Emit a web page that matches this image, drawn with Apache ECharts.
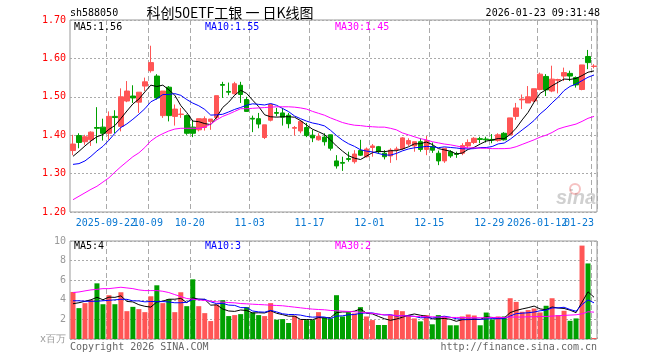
<!DOCTYPE html>
<html><head><meta charset="utf-8">
<script src="https://cdn.jsdelivr.net/npm/echarts@6/dist/echarts.min.js"></script>
<style>html,body{margin:0;padding:0;background:#fff}#c{width:660px;height:360px}</style>
</head><body><div id="c"></div>
<script>
// ---- data ----
const dates = ['2025-09-12','2025-09-15','2025-09-16','2025-09-17','2025-09-18','2025-09-19','2025-09-22','2025-09-23','2025-09-24','2025-09-25','2025-09-26','2025-09-29','2025-09-30',
'2025-10-09','2025-10-10','2025-10-13','2025-10-14','2025-10-15','2025-10-16','2025-10-17','2025-10-20','2025-10-21','2025-10-22','2025-10-23','2025-10-24','2025-10-27','2025-10-28','2025-10-29','2025-10-30','2025-10-31',
'2025-11-03','2025-11-04','2025-11-05','2025-11-06','2025-11-07','2025-11-10','2025-11-11','2025-11-12','2025-11-13','2025-11-14','2025-11-17','2025-11-18','2025-11-19','2025-11-20','2025-11-21','2025-11-24','2025-11-25','2025-11-26','2025-11-27','2025-11-28',
'2025-12-01','2025-12-02','2025-12-03','2025-12-04','2025-12-05','2025-12-08','2025-12-09','2025-12-10','2025-12-11','2025-12-12','2025-12-15','2025-12-16','2025-12-17','2025-12-18','2025-12-19','2025-12-22','2025-12-23','2025-12-24','2025-12-25','2025-12-26','2025-12-29','2025-12-30','2025-12-31',
'2026-01-05','2026-01-06','2026-01-07','2026-01-08','2026-01-09','2026-01-12','2026-01-13','2026-01-14','2026-01-15','2026-01-16','2026-01-19','2026-01-20','2026-01-21','2026-01-22','2026-01-23'];

const tickDates  = ['2025-09-22','2025-10-09','2025-10-20','2025-11-03','2025-11-17','2025-12-01','2025-12-15','2025-12-29','2026-01-12','2026-01-23'];
const tickLabels = ['2025-09-22','10-09','10-20','11-03','11-17','12-01','12-15','12-29','2026-01-12','01-23'];
// labels that overlap a neighbour in the reference go on a second label row (same place)
const overlapDates = ['2025-10-09','2026-01-23'];

const opens  = [1.360,1.399,1.383,1.388,1.420,1.421,1.405,1.449,1.423,1.489,1.502,1.486,1.528,1.568,1.554,1.451,1.525,1.449,1.454,1.451,1.421,1.414,1.420,1.436,1.446,1.532,1.514,1.508,1.530,1.493,1.444,1.443,1.394,1.439,1.459,1.458,1.452,1.418,1.411,1.420,1.400,1.388,1.395,1.401,1.333,1.329,1.339,1.331,1.360,1.344,1.368,1.370,1.353,1.346,1.363,1.365,1.377,1.372,1.383,1.363,1.370,1.353,1.333,1.357,1.352,1.353,1.372,1.381,1.391,1.390,1.389,1.386,1.405,1.401,1.449,1.492,1.484,1.489,1.519,1.553,1.515,1.543,1.554,1.561,1.550,1.519,1.605,1.579];
const closes = [1.377,1.381,1.396,1.408,1.418,1.405,1.449,1.446,1.500,1.515,1.497,1.512,1.539,1.589,1.497,1.515,1.451,1.468,1.455,1.405,1.405,1.443,1.443,1.442,1.503,1.530,1.512,1.534,1.506,1.462,1.442,1.429,1.427,1.480,1.457,1.447,1.430,1.420,1.436,1.399,1.393,1.397,1.383,1.366,1.320,1.327,1.337,1.351,1.348,1.364,1.372,1.357,1.344,1.361,1.364,1.393,1.386,1.383,1.363,1.386,1.361,1.333,1.366,1.346,1.350,1.373,1.381,1.392,1.389,1.388,1.387,1.401,1.388,1.445,1.471,1.494,1.500,1.521,1.559,1.518,1.546,1.545,1.563,1.554,1.531,1.583,1.589,1.580];
const lows   = [1.348,1.366,1.375,1.372,1.379,1.386,1.388,1.405,1.410,1.486,1.484,1.458,1.515,1.563,1.493,1.445,1.436,1.425,1.445,1.401,1.395,1.410,1.412,1.414,1.440,1.497,1.504,1.506,1.484,1.461,1.408,1.418,1.390,1.436,1.449,1.425,1.418,1.399,1.405,1.395,1.382,1.386,1.373,1.360,1.313,1.307,1.331,1.326,1.346,1.342,1.344,1.351,1.337,1.328,1.335,1.361,1.372,1.357,1.357,1.348,1.354,1.322,1.328,1.341,1.341,1.348,1.366,1.377,1.379,1.381,1.379,1.383,1.386,1.401,1.440,1.468,1.484,1.486,1.517,1.502,1.512,1.509,1.541,1.541,1.524,1.517,1.572,1.574];
const highs  = [1.401,1.405,1.401,1.410,1.473,1.443,1.462,1.465,1.522,1.541,1.530,1.512,1.550,1.633,1.559,1.515,1.528,1.480,1.471,1.454,1.440,1.443,1.449,1.442,1.503,1.539,1.537,1.539,1.539,1.500,1.451,1.458,1.427,1.482,1.471,1.471,1.458,1.424,1.440,1.432,1.414,1.405,1.405,1.401,1.348,1.344,1.357,1.361,1.388,1.368,1.377,1.372,1.361,1.366,1.370,1.395,1.392,1.383,1.392,1.398,1.381,1.360,1.366,1.361,1.357,1.379,1.389,1.395,1.396,1.396,1.403,1.405,1.408,1.445,1.484,1.506,1.528,1.521,1.563,1.559,1.581,1.547,1.576,1.568,1.553,1.583,1.622,1.585];

// moving averages: first points (need history before the window)
const ma5Lead  = [1.345,1.358,1.372,1.385];
const ma10Lead = [1.324,1.326,1.333,1.345,1.359,1.371,1.387,1.405,1.420];
const ma30 = [1.232,1.241,1.250,1.259,1.267,1.278,1.289,1.304,1.318,1.331,1.344,1.354,1.368,1.385,1.396,1.404,1.411,1.416,1.418,1.418,1.418,1.418,1.421,1.429,1.440,1.449,1.455,1.462,1.469,1.469,1.470,1.471,1.472,1.473,1.474,1.474,1.474,1.473,1.471,1.468,1.462,1.457,1.452,1.445,1.439,1.433,1.429,1.426,1.425,1.423,1.422,1.421,1.421,1.418,1.414,1.406,1.401,1.396,1.391,1.388,1.383,1.380,1.377,1.375,1.372,1.369,1.367,1.367,1.366,1.366,1.365,1.365,1.365,1.366,1.370,1.376,1.382,1.388,1.395,1.400,1.407,1.416,1.421,1.425,1.429,1.436,1.444,1.449];

const volumes = [4.80,3.15,3.66,3.99,5.68,3.55,4.47,3.55,4.77,2.84,3.28,3.05,2.74,4.36,5.48,3.66,4.06,2.74,4.77,3.35,6.09,3.35,2.64,1.83,3.52,3.96,2.34,2.44,2.54,3.25,2.71,2.44,2.34,3.66,1.97,2.03,1.63,2.37,1.97,1.93,1.93,2.74,2.20,2.10,4.47,2.30,2.71,2.61,3.25,2.30,1.93,1.43,1.43,2.44,2.95,2.84,2.44,2.10,1.80,2.44,1.50,2.44,2.30,1.40,1.40,2.30,2.50,2.40,1.40,2.70,2.00,2.30,2.30,4.16,3.79,2.78,2.95,3.11,2.71,3.39,4.16,2.44,2.88,1.86,2.10,9.53,7.71,0.10];
const volMa5Lead  = [3.60,3.70,3.85,4.00];
const volMa10Lead = [3.90,3.90,3.85,3.85,3.85,3.90,3.95,4.00,4.05];
const volMa30 = [4.74,4.80,4.91,5.01,5.07,5.14,5.14,5.21,5.28,5.21,5.14,5.01,4.94,4.94,4.94,4.87,4.74,4.53,4.33,4.13,4.06,3.99,3.93,3.86,3.79,3.76,3.72,3.69,3.62,3.59,3.55,3.52,3.49,3.45,3.42,3.39,3.32,3.25,3.18,3.11,3.05,3.01,2.98,2.91,2.88,2.84,2.81,2.78,2.74,2.68,2.61,2.54,2.47,2.44,2.41,2.37,2.34,2.30,2.30,2.27,2.27,2.24,2.24,2.20,2.20,2.20,2.17,2.17,2.17,2.17,2.20,2.20,2.20,2.24,2.24,2.24,2.27,2.27,2.30,2.30,2.34,2.37,2.41,2.44,2.47,2.57,2.78,2.74];

const priceTicks = [1.20,1.30,1.40,1.50,1.60,1.70];
const volTicks = [0,2,4,6,8,10];

// ---- build ----
function movingAvg(arr, n, lead) {
  return arr.map((_, i) => {
    if (i < n - 1) return lead[i];
    let s = 0; for (let k = i - n + 1; k <= i; k++) s += arr[k];
    return +(s / n).toFixed(4);
  });
}
const ma5 = movingAvg(closes, 5, ma5Lead);
const ma10 = movingAvg(closes, 10, ma10Lead);
const vma5 = movingAvg(volumes, 5, volMa5Lead);
const vma10 = movingAvg(volumes, 10, volMa10Lead);

const UP = '#ff5555', DOWN = '#00a000';
const kData = dates.map((d, i) => [opens[i], closes[i], lows[i], highs[i]]);
const volData = volumes.map((v, i) => ({ value: v, itemStyle: { color: closes[i] >= opens[i] ? UP : DOWN } }));
const tickIdx = tickDates.map(d => dates.indexOf(d));
const rowA = tickDates.filter(d => !overlapDates.includes(d)).map(d => dates.indexOf(d));
const rowB = overlapDates.map(d => dates.indexOf(d));
const MONO = '"DejaVu Sans Mono", "Liberation Mono", monospace';
const DATE_C = '#0a78d2';

const chart = echarts.init(document.getElementById('c'), null, { renderer: 'canvas' });
const splitX = { show: true, interval: (idx) => tickIdx.includes(idx), lineStyle: { color: '#aaa', type: [5, 3], width: 1 } };

function lineSeries(name, data, color, xi) {
  return { name, type: 'line', data, xAxisIndex: xi, yAxisIndex: xi, symbol: 'none', silent: true,
    lineStyle: { color, width: 1 }, z: 3 };
}
function dateLabel(rowIdx) {
  return { show: true, interval: (idx) => rowIdx.includes(idx), margin: 6,
    showMinLabel: true, showMaxLabel: true, hideOverlap: false,
    color: DATE_C, fontFamily: MONO, fontSize: 10,
    formatter: (val) => { const k = tickDates.indexOf(val); const t = tickLabels[k];
      return k === tickDates.length - 1 ? '{last|' + t + '}' : '{n|' + t + '}'; },
    rich: { n: { color: DATE_C, fontFamily: MONO, fontSize: 10, padding: [0, 6, 0, 0] },
            last: { color: DATE_C, fontFamily: MONO, fontSize: 10, padding: [0, 30, 0, 0] } } };
}

chart.setOption({
  animation: false,
  backgroundColor: '#fff',
  grid: [
    { left: 70, top: 20, width: 527, height: 192, show: true, borderColor: '#999', borderWidth: 1, backgroundColor: 'transparent' },
    { left: 70, top: 241, width: 527, height: 98, show: true, borderColor: '#999', borderWidth: 1, backgroundColor: 'transparent' }
  ],
  xAxis: [
    { type: 'category', gridIndex: 0, data: dates, boundaryGap: true, position: 'bottom',
      axisLine: { show: false }, axisTick: { show: false }, splitLine: splitX, axisLabel: dateLabel(rowA) },
    { type: 'category', gridIndex: 1, data: dates, boundaryGap: true,
      axisLine: { show: false }, axisTick: { show: false }, axisLabel: { show: false }, splitLine: splitX },
    { type: 'category', gridIndex: 0, data: dates, boundaryGap: true, position: 'bottom', offset: 0,
      axisLine: { show: false }, axisTick: { show: false }, splitLine: { show: false }, axisLabel: dateLabel(rowB) }
  ],
  yAxis: [
    { type: 'value', gridIndex: 0, min: priceTicks[0], max: priceTicks[priceTicks.length - 1], interval: 0.1,
      axisLine: { show: false }, axisTick: { show: false },
      axisLabel: { color: '#ff0000', fontFamily: MONO, fontSize: 10, margin: 4, showMinLabel: true, showMaxLabel: true, formatter: v => v.toFixed(2) },
      splitLine: { show: true, lineStyle: { color: '#aaa', type: [2, 2], width: 1 } } },
    { type: 'value', gridIndex: 1, min: volTicks[0], max: volTicks[volTicks.length - 1], interval: 2,
      axisLine: { show: false }, axisTick: { show: false },
      axisLabel: { color: '#999', fontFamily: MONO, fontSize: 10, margin: 4, showMinLabel: true, showMaxLabel: true, formatter: v => v === 0 ? 'x百万' : String(v) },
      splitLine: { show: true, lineStyle: { color: '#aaa', type: [2, 2], width: 1 } } }
  ],
  series: [
    { name: 'K', type: 'candlestick', data: kData, xAxisIndex: 0, yAxisIndex: 0, barWidth: 5, z: 2,
      itemStyle: { color: UP, color0: DOWN, borderColor: UP, borderColor0: DOWN, borderWidth: 1 } },
    lineSeries('MA5', ma5, '#000000', 0),
    lineSeries('MA10', ma10, '#0000ff', 0),
    lineSeries('MA30', ma30, '#ff00ff', 0),
    { name: 'VOL', type: 'bar', data: volData, xAxisIndex: 1, yAxisIndex: 1, barWidth: 5, z: 2 },
    lineSeries('VMA5', vma5, '#000000', 1),
    lineSeries('VMA10', vma10, '#0000ff', 1),
    lineSeries('VMA30', volMa30, '#ff00ff', 1)
  ],
  graphic: [
    { type: 'text', x: 70, y: 13, style: { text: 'sh588050', fill: '#000', fontFamily: MONO, fontSize: 10, textVerticalAlign: 'middle' } },
    { type: 'text', x: 230, y: 13, style: { text: '科创50ETF工银 一 日K线图', fill: '#000', fontFamily: '"Noto Sans CJK SC", sans-serif', fontSize: 14, textAlign: 'center', textVerticalAlign: 'middle' } },
    { type: 'text', x: 600, y: 13, style: { text: '2026-01-23 09:31:48', fill: '#000', fontFamily: MONO, fontSize: 10, textAlign: 'right', textVerticalAlign: 'middle' } },
    { type: 'text', x: 74, y: 27, z: 10, style: { text: 'MA5:1.56', fill: '#000', fontFamily: MONO, fontSize: 10, textVerticalAlign: 'middle' } },
    { type: 'text', x: 205, y: 27, z: 10, style: { text: 'MA10:1.55', fill: '#0000ff', fontFamily: MONO, fontSize: 10, textVerticalAlign: 'middle' } },
    { type: 'text', x: 335, y: 27, z: 10, style: { text: 'MA30:1.45', fill: '#ff00ff', fontFamily: MONO, fontSize: 10, textVerticalAlign: 'middle' } },
    { type: 'text', x: 74, y: 246, z: 10, style: { text: 'MA5:4', fill: '#000', fontFamily: MONO, fontSize: 10, textVerticalAlign: 'middle' } },
    { type: 'text', x: 205, y: 246, z: 10, style: { text: 'MA10:3', fill: '#0000ff', fontFamily: MONO, fontSize: 10, textVerticalAlign: 'middle' } },
    { type: 'text', x: 335, y: 246, z: 10, style: { text: 'MA30:2', fill: '#ff00ff', fontFamily: MONO, fontSize: 10, textVerticalAlign: 'middle' } },
    { type: 'text', x: 70, y: 347, style: { text: 'Copyright 2026 SINA.COM', fill: '#666', fontFamily: MONO, fontSize: 10, textVerticalAlign: 'middle' } },
    { type: 'text', x: 597, y: 347, style: { text: 'http://finance.sina.com.cn', fill: '#666', fontFamily: MONO, fontSize: 10, textAlign: 'right', textVerticalAlign: 'middle' } },
    { type: 'text', x: 596, y: 198, z: 1, style: { text: 'sina', fill: 'rgba(150,150,150,0.45)', fontFamily: 'Liberation Sans, sans-serif', fontSize: 20, fontWeight: 'bold', fontStyle: 'italic', textAlign: 'right', textVerticalAlign: 'middle' } },
    { type: 'circle', x: 575, y: 189, z: 1, shape: { r: 5 }, style: { fill: 'none', stroke: 'rgba(230,80,80,0.35)', lineWidth: 2 } }
  ]
});
</script></body></html>
